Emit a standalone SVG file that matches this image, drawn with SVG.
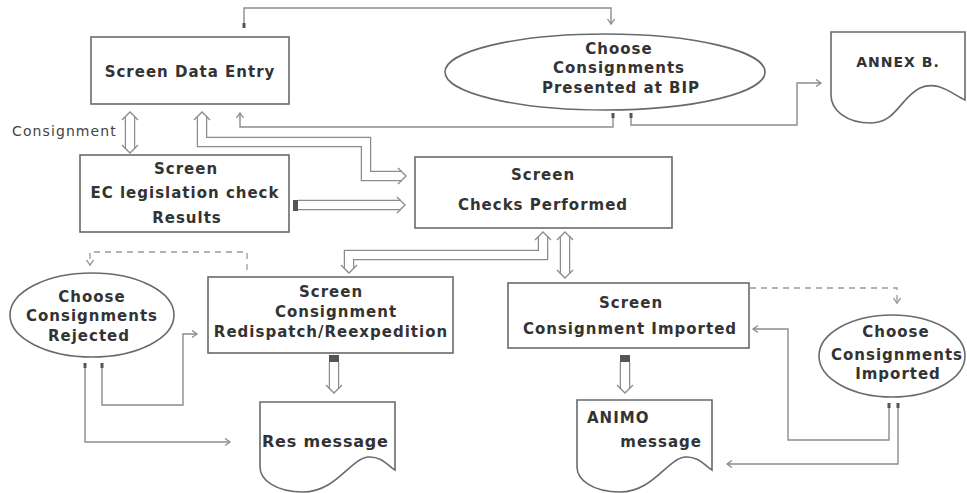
<svg xmlns="http://www.w3.org/2000/svg" width="967" height="493" viewBox="0 0 967 493">
<defs>
<style>
.box{fill:#fff;stroke:#6a6a6a;stroke-width:1.6}
.t{font-family:"DejaVu Sans",sans-serif;font-weight:bold;font-size:15px;letter-spacing:1px;fill:#333;text-anchor:middle}
.lbl{font-family:"DejaVu Sans",sans-serif;font-size:14px;letter-spacing:1.1px;fill:#444}
.ln{fill:none;stroke:#8c8c8c;stroke-width:1.4}
.dash{fill:none;stroke:#9a9a9a;stroke-width:1.3;stroke-dasharray:6 5}
.dbo{fill:none;stroke:#8c8c8c;stroke-width:10.5}
.dbi{fill:none;stroke:#fff;stroke-width:8}
.hd{fill:none;stroke:#8c8c8c;stroke-width:1.4}
.mk{fill:#555}
</style>
<marker id="ah" markerWidth="10" markerHeight="10" refX="6" refY="4" orient="auto" markerUnits="userSpaceOnUse">
<path d="M1,0.5 L6,4 L1,7.5" fill="none" stroke="#8c8c8c" stroke-width="1.3"/>
</marker>
</defs>

<g id="connectors">
<!-- thin connectors -->
<path class="ln" d="M244 25 V8 H611 V24" marker-end="url(#ah)"/>
<rect class="mk" x="242.5" y="23" width="3" height="5"/>
<path class="ln" d="M613 116 V127 H240 V113" marker-end="url(#ah)"/>
<rect class="mk" x="611.5" y="113" width="3" height="5"/>
<path class="ln" d="M631 116 V125 H797 V83 H821" marker-end="url(#ah)"/>
<rect class="mk" x="629.5" y="113" width="3" height="5"/>
<path class="dash" d="M247 270 V252 H90 V265" marker-end="url(#ah)"/>
<path class="ln" d="M102 366 V405 H183 V334 H197" marker-end="url(#ah)"/>
<rect class="mk" x="100.5" y="363" width="3" height="5"/>
<path class="ln" d="M85 366 V442 H230" marker-end="url(#ah)"/>
<rect class="mk" x="83.5" y="363" width="3" height="5"/>
<path class="dash" d="M750 288 H897 V303" marker-end="url(#ah)"/>
<path class="ln" d="M889 406 V440 H788 V329 H753" marker-end="url(#ah)"/>
<rect class="mk" x="887.5" y="403" width="3" height="5"/>
<path class="ln" d="M898 406 V464 H727" marker-end="url(#ah)"/>
<rect class="mk" x="896.5" y="403" width="3" height="5"/>

<!-- hollow double connectors -->
<path class="dbo" d="M130 116 V149"/><path class="dbi" d="M130 115 V150"/>
<polyline class="hd" points="122,120 130,112 138,120"/>
<polyline class="hd" points="122,145 130,153 138,145"/>

<path class="dbo" d="M202 116 V142 H366 V176 H402"/><path class="dbi" d="M202 115 V142 H366 V176 H403"/>
<polyline class="hd" points="194,120 202,112 210,120"/>
<polyline class="hd" points="398,168 406,176 398,184"/>

<path class="dbo" d="M298 205 H401"/><path class="dbi" d="M297 205 H402"/>
<polyline class="hd" points="397,197 405,205 397,213"/>
<rect class="mk" x="293" y="200" width="5" height="11"/>

<path class="dbo" d="M543 236 V255 H349 V269"/><path class="dbi" d="M543 235 V255 H349 V270"/>
<polyline class="hd" points="535,240 543,232 551,240"/>
<polyline class="hd" points="341,265 349,273 357,265"/>

<path class="dbo" d="M565 236 V274"/><path class="dbi" d="M565 235 V275"/>
<polyline class="hd" points="557,240 565,232 573,240"/>
<polyline class="hd" points="557,270 565,278 573,270"/>

<path class="dbo" d="M334 362 V389"/><path class="dbi" d="M334 362 V390"/>
<polyline class="hd" points="326,385 334,393 342,385"/>
<rect class="mk" x="329" y="355" width="10" height="7"/>

<path class="dbo" d="M625 362 V389"/><path class="dbi" d="M625 362 V390"/>
<polyline class="hd" points="617,385 625,393 633,385"/>
<rect class="mk" x="620" y="355" width="10" height="7"/>
</g>

<text class="lbl" x="12" y="136">Consignment</text>

<g id="screen-data-entry">
<rect class="box" x="91" y="37" width="198" height="67"/>
<text class="t" x="190" y="77">Screen Data Entry</text>
</g>

<g id="choose-bip">
<ellipse class="box" cx="605" cy="72" rx="160" ry="38"/>
<text class="t" x="619" y="54">Choose</text>
<text class="t" x="619" y="73">Consignments</text>
<text class="t" x="621" y="93">Presented at BIP</text>
</g>

<g id="annex-b">
<path class="box" d="M831 32 H965 V100 C952 94 938 80 920 88 C900 98 896 123 871 123 C846 123 831 110 831 95 Z"/>
<text class="t" x="898" y="67" style="font-size:14px">ANNEX B.</text>
</g>

<g id="ec-check">
<rect class="box" x="80" y="155" width="209" height="77"/>
<text class="t" x="186" y="174">Screen</text>
<text class="t" x="185" y="198">EC legislation check</text>
<text class="t" x="187" y="223">Results</text>
</g>

<g id="checks-performed">
<rect class="box" x="415" y="157" width="257" height="71"/>
<text class="t" x="543" y="180">Screen</text>
<text class="t" x="543" y="210">Checks Performed</text>
</g>

<g id="choose-rejected">
<ellipse class="box" cx="92" cy="315" rx="82" ry="42"/>
<text class="t" x="92" y="302">Choose</text>
<text class="t" x="92" y="321">Consignments</text>
<text class="t" x="89" y="341">Rejected</text>
</g>

<g id="redispatch">
<rect class="box" x="208" y="277" width="245" height="76"/>
<text class="t" x="331" y="297">Screen</text>
<text class="t" x="336" y="317">Consignment</text>
<text class="t" x="331" y="337">Redispatch/Reexpedition</text>
</g>

<g id="res-message">
<path class="box" d="M260 402 H395 V470 C388 466 382 456 368 457 C350 459 336 492 303 492 C276 492 260 480 260 467 Z"/>
<text class="t" x="262" y="447" style="text-anchor:start;font-size:16px;letter-spacing:0.8px">Res message</text>
</g>

<g id="consignment-imported">
<rect class="box" x="508" y="283" width="241" height="65"/>
<text class="t" x="631" y="308">Screen</text>
<text class="t" x="630" y="334">Consignment Imported</text>
</g>

<g id="choose-imported">
<ellipse class="box" cx="892" cy="356" rx="73" ry="41"/>
<text class="t" x="896" y="337">Choose</text>
<text class="t" x="897" y="360">Consignments</text>
<text class="t" x="898" y="379">Imported</text>
</g>

<g id="animo-message">
<path class="box" d="M577 400 H712 V470 C705 466 699 456 685 457 C667 459 653 492 620 492 C593 492 577 480 577 467 Z"/>
<text class="t" x="587" y="423" style="text-anchor:start">ANIMO</text>
<text class="t" x="702" y="447" style="text-anchor:end">message</text>
</g>
</svg>
